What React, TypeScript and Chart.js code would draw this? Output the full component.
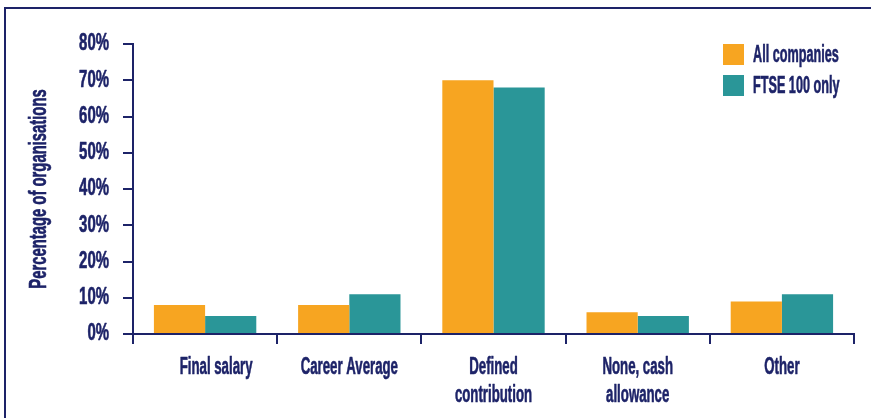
import React, { useEffect, useRef } from "react";
import { Chart, registerables } from "chart.js";

Chart.register(...registerables);

const categories: string[][] = [
  ["      Final salary"],
  ["Career Average"],
  ["Defined", "contribution"],
  ["None, cash", "allowance"],
  ["Other"],
];
const seriesNames = ["All companies", "FTSE 100 only"];
const allCompanies = [8, 8, 70, 6, 9];
const ftse100Only = [5, 11, 68, 5, 11];
const yTickValues = [0, 10, 20, 30, 40, 50, 60, 70, 80];
const yTitle = "Percentage of organisations";

const NAVY = "#1d2368";
const ORANGE = "#f7a521";
const TEAL = "#2a9698";
const FONT = "'Liberation Sans', Arial, sans-serif";
const FONT_SIZE = 23;

// horizontal condensing factors to imitate the condensed typeface
const X_TICK_SCALE = 0.575;
const Y_TICK_SCALE = 0.65;
const TITLE_SCALE = 0.645;
const LEGEND_SCALE = 0.55;
const TEXT_STROKE = 0.6;

function condenseText(ctx: CanvasRenderingContext2D) {
  const anyCtx = ctx as any;
  if (anyCtx.__condensed) return;
  anyCtx.__condensed = true;
  const orig = ctx.fillText.bind(ctx);
  const origStroke = ctx.strokeText.bind(ctx);
  anyCtx.fillText = (text: string, x: number, y: number, maxWidth?: number) => {
    const s = String(text);
    let sx = X_TICK_SCALE;
    if (s === yTitle) sx = TITLE_SCALE;
    else if (s.endsWith("%")) sx = Y_TICK_SCALE;
    ctx.save();
    ctx.translate(x, y);
    ctx.scale(sx, 1);
    if (maxWidth === undefined) orig(s, 0, 0);
    else orig(s, 0, 0, maxWidth / sx);
    ctx.strokeStyle = ctx.fillStyle;
    ctx.lineWidth = TEXT_STROKE;
    ctx.lineJoin = "round";
    if (maxWidth === undefined) origStroke(s, 0, 0);
    else origStroke(s, 0, 0, maxWidth / sx);
    ctx.restore();
  };
}

export default function App() {
  const ref = useRef<HTMLCanvasElement>(null);

  useEffect(() => {
    if (!ref.current) return;
    const ctx = ref.current.getContext("2d");
    if (ctx) condenseText(ctx);
    const chart = new Chart(ref.current, {
      type: "bar",
      data: {
        labels: categories,
        datasets: [
          {
            label: seriesNames[0],
            data: allCompanies,
            backgroundColor: ORANGE,
            borderWidth: 0,
            categoryPercentage: 0.71,
            barPercentage: 1,
          },
          {
            label: seriesNames[1],
            data: ftse100Only,
            backgroundColor: TEAL,
            borderWidth: 0,
            categoryPercentage: 0.71,
            barPercentage: 1,
          },
        ],
      },
      options: {
        responsive: false,
        animation: false,
        devicePixelRatio: 1,
        layout: { padding: { top: 44, right: 17, left: 0, bottom: 0 } },
        plugins: {
          legend: { display: false },
          tooltip: { enabled: false },
        },
        scales: {
          x: {
            afterFit: (s: any) => {
              s.height = 84;
            },
            grid: {
              offset: true,
              drawOnChartArea: false,
              drawTicks: true,
              tickLength: 10,
              color: NAVY,
              lineWidth: 2,
            },
            border: { display: true, color: NAVY, width: 2 },
            ticks: {
              color: NAVY,
              padding: 10,
              maxRotation: 0,
              autoSkip: false,
              font: { family: FONT, size: FONT_SIZE, weight: "bold", lineHeight: 28 / FONT_SIZE },
            },
          },
          y: {
            min: 0,
            max: 80,
            afterFit: (s: any) => {
              s.width = 133;
            },
            afterBuildTicks: (s: any) => {
              s.ticks = yTickValues.map((v) => ({ value: v }));
            },
            grid: {
              drawOnChartArea: false,
              drawTicks: true,
              tickLength: 10,
              color: NAVY,
              lineWidth: 2,
            },
            border: { display: true, color: NAVY, width: 2 },
            ticks: {
              color: NAVY,
              padding: 14,
              callback: (v: any) => v + "%",
              font: { family: FONT, size: FONT_SIZE, weight: "bold" },
            },
            title: {
              display: true,
              text: yTitle,
              color: NAVY,
              padding: { top: 26, bottom: 0 },
              font: { family: FONT, size: FONT_SIZE, weight: "bold" },
            },
          },
        },
      },
    });
    return () => chart.destroy();
  }, []);

  const colors = [ORANGE, TEAL];

  return (
    <div style={{ position: "fixed", left: 0, top: 0, width: 871, height: 418, background: "#fff", overflow: "hidden" }}>
      <div
        style={{
          position: "absolute",
          left: 4,
          top: 7,
          width: 900,
          height: 500,
          borderTop: `2px solid ${NAVY}`,
          borderLeft: `2px solid ${NAVY}`,
        }}
      />
      <canvas ref={ref} width={871} height={418} style={{ position: "absolute", left: 0, top: 0, width: 871, height: 418 }} />
      <div style={{ position: "absolute", left: 723, top: 44 }}>
        {seriesNames.map((name, i) => (
          <div key={name} style={{ position: "relative", height: 21, marginBottom: 10 }}>
            <div style={{ position: "absolute", left: 0, top: 0, width: 21, height: 21, background: colors[i] }} />
            <span
              style={{
                position: "absolute",
                left: 30,
                top: -2,
                lineHeight: "25px",
                fontFamily: FONT,
                fontWeight: "bold",
                fontSize: FONT_SIZE,
                color: NAVY,
                whiteSpace: "nowrap",
                WebkitTextStroke: `${TEXT_STROKE}px ${NAVY}`,
                transform: `scaleX(${LEGEND_SCALE})`,
                transformOrigin: "0 50%",
              }}
            >
              {name}
            </span>
          </div>
        ))}
      </div>
    </div>
  );
}
